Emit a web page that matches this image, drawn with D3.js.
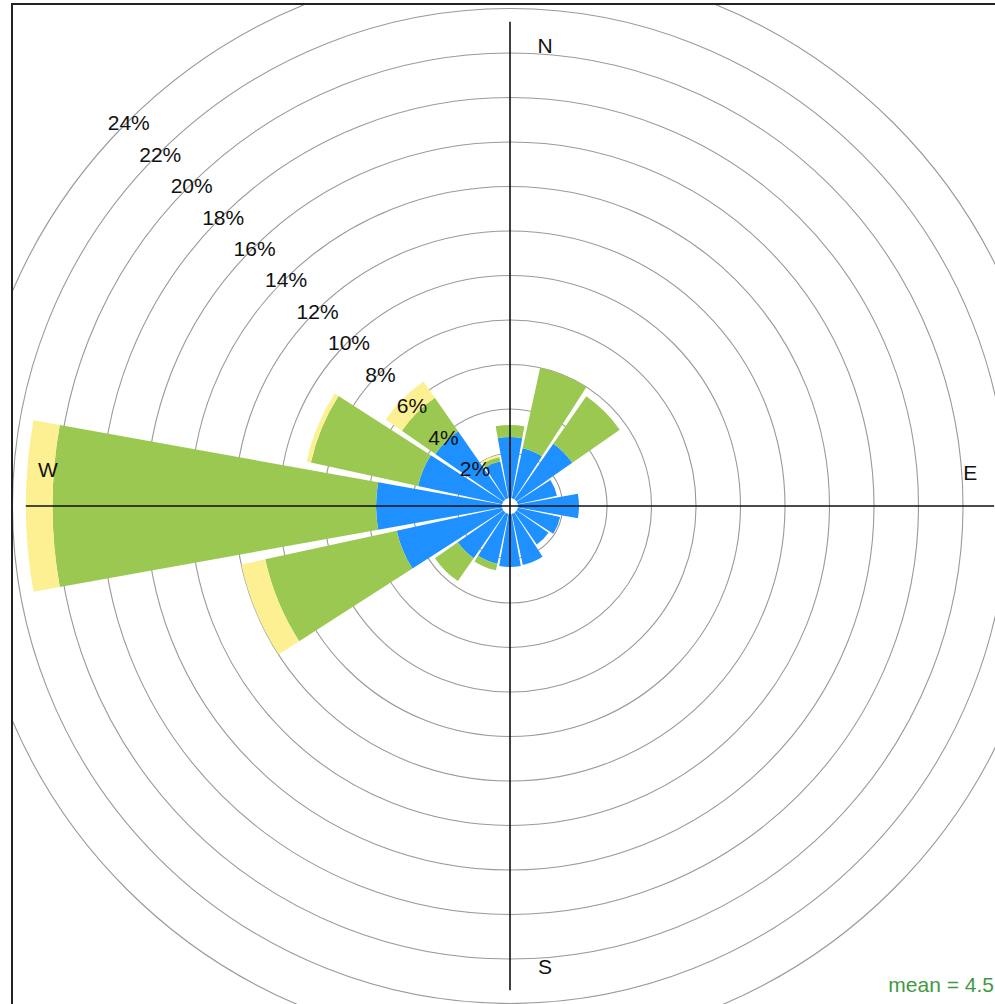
<!DOCTYPE html>
<html>
<head>
<meta charset="utf-8">
<script src="https://cdn.jsdelivr.net/npm/d3@7"></script>
<style>
  body { margin: 0; background: #fff; }
  svg { display: block; font-family: "Liberation Sans", Arial, sans-serif; }
</style>
</head>
<body>
<div id="chart"></div>
<script>
// wind directions (16 sectors, clockwise from north)
const directions = ["N", "NNE", "NE", "ENE", "E", "ESE", "SE", "SSE",
                    "S", "SSW", "SW", "WSW", "W", "WNW", "NW", "NNW"];

// frequency (%) per speed band, one value per direction
const lowBand  = [2.74, 2.3, 3.05, 1.8, 2.74, 1.95, 1.75, 2.35, 2.38, 2.3, 2.5, 4.85, 5.66, 3.87, 3.73, 1.7];
const midBand  = [0.54, 3.7, 2.6, 0, 0, 0, 0, 0, 0, 0.3, 1.25, 6.05, 14.54, 4.93, 1.83, 0.2];
const highBand = [0, 0, 0, 0, 0, 0, 0, 0, 0, 0, 0, 1.1, 1.2, 0.2, 0.89, 0.1];

const bandColors = ["#1e90ff", "#9bc850", "#fdf093"];

// ring labels
const ringTicks = [2, 4, 6, 8, 10, 12, 14, 16, 18, 20, 22, 24];
const compass = ["N", "E", "S", "W"];
const meanLabel = "mean = 4.5";

function createRose(containerId) {
    const width = 995;
    const height = 1004;
    const cx = 510, cy = 506;

    const svg = d3.select(`#${containerId}`).append("svg")
        .attr("width", width)
        .attr("height", height);

    // clip everything to the panel frame
    svg.append("clipPath").attr("id", "panel")
        .append("rect").attr("x", 12).attr("y", 4).attr("width", 1000).attr("height", 1010);

    const g = svg.append("g").attr("clip-path", "url(#panel)")
        .append("g").attr("transform", `translate(${cx},${cy})`);

    // radial scale, with a small hole in the middle
    const r = d3.scaleLinear().domain([0, 24]).range([8, 542]);

    // grid rings
    g.selectAll("circle.ring")
        .data(ringTicks)
        .enter().append("circle")
        .attr("class", "ring")
        .attr("r", d => r(d))
        .attr("fill", "none")
        .attr("stroke", "#9a9a9a")
        .attr("stroke-width", 1.1);

    // stack the bands per direction
    const rows = directions.map((d, i) => ({ dir: d, angle: i * 22.5, bands: [lowBand[i], midBand[i], highBand[i]] }));
    const segs = [];
    rows.forEach(row => {
        let acc = 0;
        row.bands.forEach((v, k) => {
            if (v > 0) segs.push({ angle: row.angle, from: acc, to: acc + v, band: k });
            acc += v;
        });
    });

    const half = 10.2 * Math.PI / 180;
    const arc = d3.arc()
        .innerRadius(d => r(d.from))
        .outerRadius(d => r(d.to))
        .startAngle(d => d.angle * Math.PI / 180 - half)
        .endAngle(d => d.angle * Math.PI / 180 + half);

    g.selectAll("path.seg")
        .data(segs)
        .enter().append("path")
        .attr("class", "seg")
        .attr("d", arc)
        .attr("fill", d => bandColors[d.band]);

    // axis cross, as long as the biggest total
    const totals = rows.map(d => d3.sum(d.bands));
    const axisR = r(d3.max(totals));
    g.append("line").attr("x1", 0).attr("x2", 0).attr("y1", -axisR).attr("y2", axisR)
        .attr("stroke", "#111").attr("stroke-width", 1.6);
    g.append("line").attr("y1", 0).attr("y2", 0).attr("x1", -axisR).attr("x2", axisR)
        .attr("stroke", "#111").attr("stroke-width", 1.6);

    // ring labels along the NW diagonal
    const c45 = Math.SQRT1_2;
    g.selectAll("text.tick")
        .data(ringTicks)
        .enter().append("text")
        .attr("class", "tick")
        .attr("x", d => -r(d) * c45 + 2)
        .attr("y", d => -r(d) * c45)
        .attr("dy", "0.35em")
        .attr("text-anchor", "middle")
        .style("font-size", "21px")
        .style("fill", "#111")
        .text(d => d + "%");

    // compass letters
    const labR = axisR - 24;
    const pos = {
        N: [35, -labR],
        E: [labR, -33],
        S: [35, labR],
        W: [-labR - 2, -36]
    };
    g.selectAll("text.dir")
        .data(compass)
        .enter().append("text")
        .attr("class", "dir")
        .attr("x", d => pos[d][0])
        .attr("y", d => pos[d][1])
        .attr("dy", "0.35em")
        .attr("text-anchor", "middle")
        .style("font-size", "21px")
        .style("fill", "#111")
        .text(d => d);

    // panel frame
    svg.append("rect")
        .attr("x", 12).attr("y", 4)
        .attr("width", 1000).attr("height", 1010)
        .attr("fill", "none")
        .attr("stroke", "#222")
        .attr("stroke-width", 2);

    // mean speed note
    svg.append("text")
        .attr("x", 994).attr("y", 992)
        .attr("text-anchor", "end")
        .style("font-size", "21px")
        .style("fill", "#3f9a3f")
        .text(meanLabel);
}

createRose("chart");
</script>
</body>
</html>
